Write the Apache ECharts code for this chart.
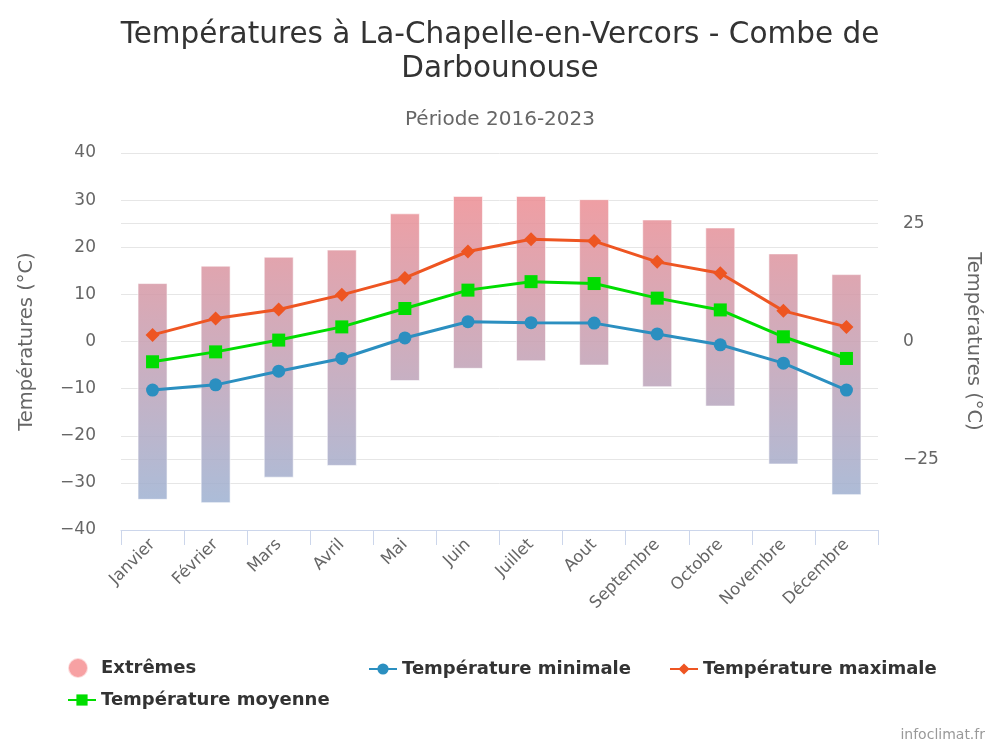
<!DOCTYPE html>
<html>
<head>
<meta charset="utf-8">
<script src="https://cdn.jsdelivr.net/npm/echarts@6/dist/echarts.min.js"></script>
<style>html,body{margin:0;padding:0;background:#fff}#c{width:1000px;height:750px}</style>
</head>
<body>
<div id="c"></div>
<script>
const categories = ['Janvier','Février','Mars','Avril','Mai','Juin','Juillet','Aout','Septembre','Octobre','Novembre','Décembre'];
const extremeLow  = [-33.6,-34.3,-28.9,-26.4,-8.4,-5.8,-4.2,-5.1,-9.7,-13.8,-26.1,-32.6];
const extremeHigh = [12.4,16.1,18.0,19.5,27.2,30.9,30.9,30.2,25.9,24.2,18.7,14.3];
const tempMin  = [-10.3,-9.2,-6.3,-3.6,0.75,4.2,4.0,3.9,1.6,-0.7,-4.6,-10.3];
const tempMax  = [1.4,4.9,6.8,9.9,13.5,19.1,21.7,21.3,16.9,14.5,6.5,3.1];
const tempMean = [-4.3,-2.2,0.3,3.1,7.0,10.9,12.7,12.3,9.2,6.7,1.0,-3.6];
const leftTicks = {min:-40, max:40, interval:10};
const rightTickLabels = [-25, 0, 25];
const titleLines = ['Températures à La-Chapelle-en-Vercors - Combe de', 'Darbounouse'];
const subtitle = 'Période 2016-2023';

const FONT = 'DejaVu Sans';
const chart = echarts.init(document.getElementById('c'), null, {renderer:'canvas'});
const rangeSize = extremeHigh.map((h,i)=>h-extremeLow[i]);
const legendText = {fontFamily:FONT, fontSize:18, fontWeight:'bold', color:'#333'};
const minus = v => String(v).replace('-', '\u2212');

chart.setOption({
  animation:false,
  backgroundColor:'#fff',
  textStyle:{fontFamily:FONT},
  title:[
    {text:titleLines[0], left:'center', top:13,
     textStyle:{fontFamily:FONT, fontSize:29.5, fontWeight:'normal', color:'#333', lineHeight:34}},
    {text:titleLines[1], left:'center', top:47,
     textStyle:{fontFamily:FONT, fontSize:29.5, fontWeight:'normal', color:'#333', lineHeight:34}},
    {text:subtitle, left:'center', top:103,
     textStyle:{fontFamily:FONT, fontSize:20, fontWeight:'normal', color:'#666', lineHeight:24}}
  ],
  legend:[
    {data:[{name:'Extrêmes', icon:'circle', itemStyle:{color:'#f7a1a3'}}], left:62, top:652, itemWidth:36, itemHeight:20, textStyle:legendText},
    {data:['Température minimale'], left:363, top:655, itemWidth:28, itemHeight:14, textStyle:legendText},
    {data:['Température maximale'], left:664, top:655, itemWidth:28, itemHeight:14, textStyle:legendText},
    {data:['Température moyenne'], left:62, top:686, itemWidth:28, itemHeight:14, textStyle:legendText}
  ],
  grid:{left:121, right:122, top:153, bottom:220, containLabel:false},
  xAxis:{
    type:'category', data:categories, boundaryGap:true,
    axisLine:{onZero:false, lineStyle:{color:'#ccd6eb', width:1}},
    axisTick:{show:true, length:15, lineStyle:{color:'#ccd6eb'}, alignWithLabel:false},
    axisLabel:{rotate:45, fontSize:16.5, color:'#666', fontFamily:FONT, margin:12, interval:0},
    splitLine:{show:false}
  },
  yAxis:[
    {type:'value', min:leftTicks.min, max:leftTicks.max, interval:leftTicks.interval, position:'left',
     name:'Températures (°C)', nameLocation:'middle', nameGap:84,
     nameTextStyle:{fontFamily:FONT, fontSize:19.5, color:'#666'},
     axisLine:{show:false}, axisTick:{show:false},
     axisLabel:{fontSize:17, color:'#666', fontFamily:FONT, margin:25, formatter:minus},
     splitLine:{lineStyle:{color:'#e6e6e6', width:1}}},
    {type:'value', min:leftTicks.min, max:leftTicks.max, interval:5, position:'right',
     name:'Températures (°C)', nameLocation:'middle', nameGap:85, nameRotate:-90,
     nameTextStyle:{fontFamily:FONT, fontSize:19.5, color:'#666'},
     axisLine:{show:false},
     axisTick:{show:false, customValues:rightTickLabels},
     axisLabel:{fontSize:17, color:'#666', fontFamily:FONT, margin:25, customValues:rightTickLabels, formatter:minus},
     splitLine:{show:false}}
  ],
  series:[
    {name:'base', type:'bar', stack:'ext', stackStrategy:'all', data:extremeLow, barWidth:30,
     itemStyle:{color:'rgba(0,0,0,0)'}, silent:true, legendHoverLink:false},
    {name:'Extrêmes', type:'bar', stack:'ext', stackStrategy:'all', data:rangeSize, barWidth:30,
     itemStyle:{
       borderColor:'rgba(255,255,255,0.6)', borderWidth:1,
       color:{type:'linear', x:0, y:153, x2:0, y2:530, global:true,
         colorStops:[{offset:0, color:'rgba(248,136,138,0.85)'},{offset:1, color:'rgba(150,180,215,0.85)'}]}
     }},
    {name:'Température minimale', type:'line', data:tempMin, symbol:'circle', symbolSize:13,
     lineStyle:{color:'#2b8fc0', width:3}, itemStyle:{color:'#2b8fc0'}, z:4,
     markLine:{silent:true, symbol:'none', label:{show:false}, animation:false,
       lineStyle:{color:'#e6e6e6', type:'solid', width:1}, z:0,
       data:[{yAxis:25},{yAxis:-25}]}},
    {name:'Température maximale', type:'line', data:tempMax, symbol:'diamond', symbolSize:14,
     lineStyle:{color:'#ee5522', width:3}, itemStyle:{color:'#ee5522'}, z:4},
    {name:'Température moyenne', type:'line', data:tempMean, symbol:'rect', symbolSize:13,
     lineStyle:{color:'#00dd00', width:3}, itemStyle:{color:'#00dd00'}, z:4}
  ],
  graphic:[
    {type:'text', right:15, top:728, style:{text:'infoclimat.fr', fontFamily:FONT, fontSize:14, fill:'#999'}}
  ]
});
</script>
</body>
</html>
